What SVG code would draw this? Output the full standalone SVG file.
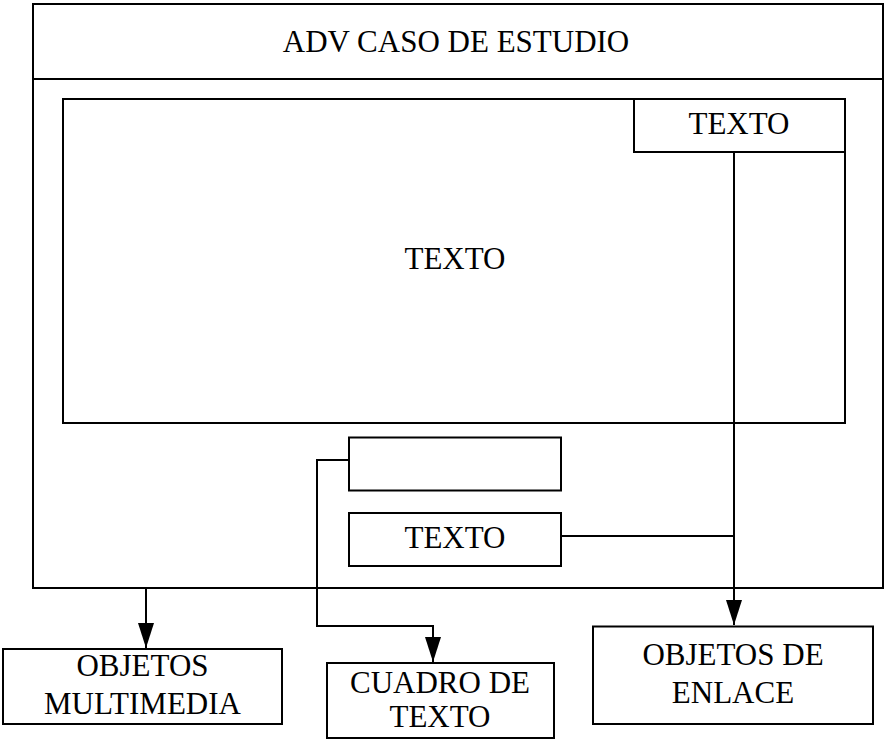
<svg xmlns="http://www.w3.org/2000/svg" width="885" height="740" viewBox="0 0 885 740">
<style>
.box{fill:#fff;stroke:#000;stroke-width:2}
.ln{fill:none;stroke:#000;stroke-width:2}
text{font-family:"Liberation Serif","Times New Roman",serif;font-size:31px;fill:#000;text-anchor:middle}
</style>
<defs>
<marker id="arr" markerUnits="userSpaceOnUse" markerWidth="26" markerHeight="16" refX="25" refY="8" orient="auto">
<path d="M0,0 L25,8 L0,16 Z" fill="#000"/>
</marker>
</defs>
<rect width="885" height="740" fill="#fff"/>
<g id="frame">
<rect class="box" x="33" y="4" width="850" height="584"/>
<line class="ln" x1="33" y1="79" x2="883" y2="79"/>
<text x="456" y="52">ADV CASO DE ESTUDIO</text>
</g>
<g id="main-text">
<rect class="box" x="63" y="99" width="782" height="324"/>
<text x="455" y="269">TEXTO</text>
</g>
<g id="top-text">
<rect class="box" x="634" y="99" width="211" height="53"/>
<text x="739" y="134">TEXTO</text>
</g>
<g id="empty-box">
<rect class="box" x="349" y="437.5" width="212" height="53"/>
</g>
<g id="bottom-text">
<rect class="box" x="349" y="513" width="212" height="53"/>
<text x="455" y="548">TEXTO</text>
</g>
<g id="multimedia">
<rect class="box" x="3" y="649" width="279" height="75"/>
<text x="142.5" y="676">OBJETOS</text>
<text x="142.5" y="714">MULTIMEDIA</text>
</g>
<g id="cuadro">
<rect class="box" x="327" y="663" width="227" height="75"/>
<text x="440" y="693">CUADRO DE</text>
<text x="440" y="727">TEXTO</text>
</g>
<g id="enlace">
<rect class="box" x="593" y="626.5" width="280" height="97.5"/>
<text x="733" y="665">OBJETOS DE</text>
<text x="733" y="703">ENLACE</text>
</g>
<g id="connectors">
<line class="ln" x1="146" y1="588" x2="146" y2="648" marker-end="url(#arr)"/>
<polyline class="ln" points="349,460 317,460 317,626 433,626 433,662" marker-end="url(#arr)"/>
<line class="ln" x1="734" y1="152" x2="734" y2="625" marker-end="url(#arr)"/>
<line class="ln" x1="561" y1="536" x2="734" y2="536"/>
</g>
</svg>
